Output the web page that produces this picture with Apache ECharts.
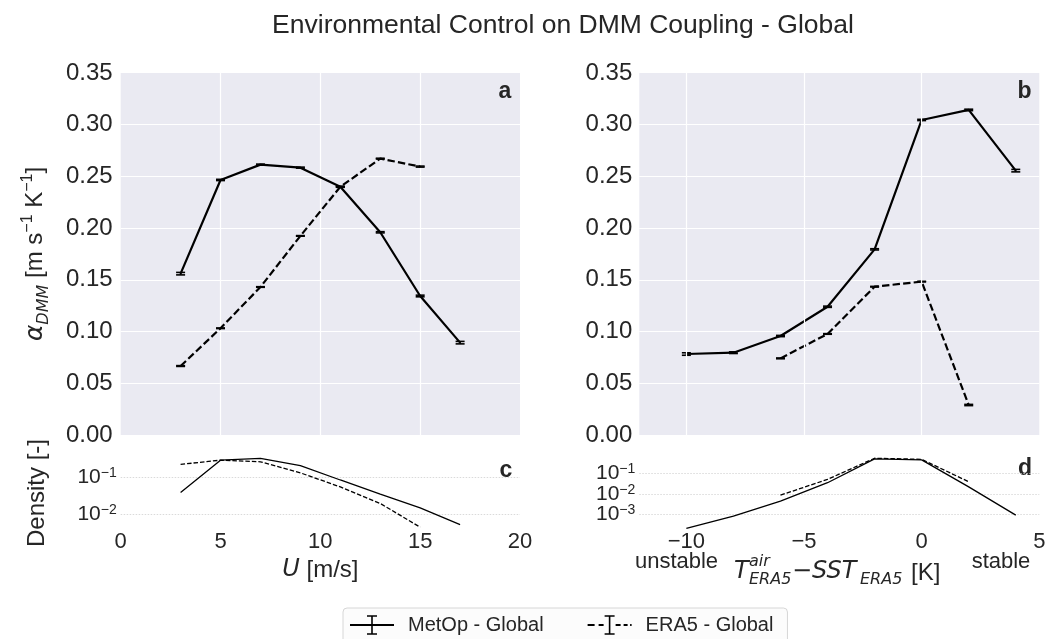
<!DOCTYPE html>
<html><head><meta charset="utf-8">
<script src="https://cdn.jsdelivr.net/npm/echarts@6/dist/echarts.min.js"></script>
<style>html,body{margin:0;padding:0;background:#fff}#c{width:1057px;height:639px}</style>
</head><body><div id="c"></div>
<script>
// ---- data ----
const windSpeed = [3, 5, 7, 9, 11, 13, 15, 17];
const metopWind = [0.156, 0.2466, 0.2614, 0.2585, 0.240, 0.196, 0.1344, 0.0893];
const metopWindErr = [0.0012, 0.0006, 0.0005, 0.0005, 0.0005, 0.0006, 0.0008, 0.0012];
const era5WindSpeed = [3, 5, 7, 9, 11, 13, 15];
const era5Wind = [0.0667, 0.1032, 0.1431, 0.1925, 0.240, 0.2672, 0.2595];
const era5WindErr = [0.0004, 0.0003, 0.0003, 0.0003, 0.0003, 0.0004, 0.0005];

const tempDiff = [-10, -8, -6, -4, -2, 0, 2, 4];
const metopTemp = [0.0783, 0.0796, 0.0957, 0.124, 0.1795, 0.3046, 0.3143, 0.2556];
const metopTempErr = [0.0012, 0.0008, 0.0006, 0.0006, 0.0006, 0.0006, 0.0007, 0.0012];
const era5TempDiff = [-6, -4, -2, 0, 2];
const era5Temp = [0.0741, 0.0977, 0.1434, 0.1483, 0.029];
const era5TempErr = [0.0004, 0.0003, 0.0003, 0.0003, 0.0006];

const metopWindDensity = [0.039, 0.295, 0.33, 0.21, 0.085, 0.035, 0.0148, 0.0052];
const era5WindDensity = [0.226, 0.295, 0.266, 0.133, 0.055, 0.0195, 0.0044];
const metopTempDensity = [0.00021, 0.00083, 0.0045, 0.035, 0.50, 0.45, 0.022, 0.00093];
const era5TempDensity = [0.0087, 0.051, 0.54, 0.48, 0.039];

const tempTicks = [-10, -5, 0, 5];
const tempGridLines = [-10, -5, 0];

// ---- styling ----
const TXT = '#262626';
const FONT = 'Liberation Sans';
const MATH = 'DejaVu Sans';
const BG = '#EAEAF2';

const pairs = (xs, ys) => xs.map((x, i) => [x, ys[i]]);
const errs = (xs, ys, es) => xs.map((x, i) => [x, ys[i] - es[i], ys[i] + es[i]]);

function errRender(params, api) {
  const x = api.value(0);
  const lo = api.coord([x, api.value(1)]);
  const hi = api.coord([x, api.value(2)]);
  const hw = 4.5;
  const st = { stroke: '#000', lineWidth: 1.6 };
  return { type: 'group', children: [
    { type: 'line', shape: { x1: lo[0], y1: lo[1], x2: hi[0], y2: hi[1] }, style: st },
    { type: 'line', shape: { x1: lo[0] - hw, y1: lo[1], x2: lo[0] + hw, y2: lo[1] }, style: st },
    { type: 'line', shape: { x1: hi[0] - hw, y1: hi[1], x2: hi[0] + hw, y2: hi[1] }, style: st }
  ]};
}

const gridA = { left: 120.7, top: 73, width: 399.3, height: 362 };
const gridB = { left: 639.3, top: 73, width: 400, height: 362 };
const gridC = { left: 120.7, top: 455, width: 399.3, height: 76 };
const gridD = { left: 639.3, top: 455, width: 400, height: 76 };

const noLine = { show: false };
const whiteSplit = { show: true, showMinLine: false, showMaxLine: false, lineStyle: { color: '#ffffff', width: 1.2 } };
const dotSplit = { show: true, showMinLine: false, showMaxLine: false, lineStyle: { color: '#d0d0d0', width: 0.8, type: [1.5, 1.5] } };

function logLabel(v) {
  const l = Math.log10(v);
  const e = Math.round(l);
  if (Math.abs(l - e) > 1e-6) return '';
  return '{b|10}{s|' + (e < 0 ? '\u2212' + (-e) : e) + '}';
}
const logRich = {
  b: { fontSize: 21, fontFamily: FONT, color: TXT, lineHeight: 22 },
  s: { fontSize: 14, fontFamily: FONT, color: TXT, lineHeight: 14, verticalAlign: 'top' }
};
const minusFmt = v => (v < 0 ? '\u2212' + (-v) : String(v));

const metopIcon = 'path://M0,10h44v2H0z M21.2,2h1.6v18h-1.6z M17,1.2h10v1.6h-10z M17,19.2h10v1.6h-10z';
const era5Icon = 'path://M0,10h7v2H0z M11,10h5v2h-5z M28,10h5v2h-5z M36,10h4v2h-4z M42.5,10h1.5v2h-1.5z M21.2,2h1.6v18h-1.6z M17,1.2h10v1.6h-10z M17,19.2h10v1.6h-10z';

const option = {
  animation: false,
  backgroundColor: '#ffffff',
  grid: [
    Object.assign({ backgroundColor: BG, show: true, borderWidth: 0 }, gridA),
    Object.assign({ backgroundColor: BG, show: true, borderWidth: 0 }, gridB),
    Object.assign({ show: false }, gridC),
    Object.assign({ show: false }, gridD)
  ],
  xAxis: [
    { gridIndex: 0, type: 'value', min: 0, max: 20, interval: 5, axisLine: noLine, axisTick: noLine, axisLabel: { show: false }, splitLine: whiteSplit },
    { gridIndex: 1, type: 'value', min: -12, max: 5, axisLine: noLine, axisTick: noLine, axisLabel: { show: false }, splitLine: { show: false } },
    { gridIndex: 2, type: 'value', min: 0, max: 20, interval: 5, axisLine: noLine, axisTick: noLine, splitLine: { show: false },
      axisLabel: { fontSize: 22, fontFamily: FONT, color: TXT, margin: 0 },
      name: '{i|U}{n| [m/s]}', nameLocation: 'middle', nameGap: 25,
      nameTextStyle: { rich: {
        i: { fontSize: 24, fontFamily: MATH, fontStyle: 'italic', color: TXT, lineHeight: 28 },
        n: { fontSize: 24, fontFamily: FONT, color: TXT, lineHeight: 28 } } } },
    { gridIndex: 3, type: 'value', min: -12, max: 5, axisLine: noLine, axisTick: { show: false, customValues: tempTicks }, splitLine: { show: false },
      axisLabel: { fontSize: 22, fontFamily: FONT, color: TXT, margin: 0, customValues: tempTicks, formatter: minusFmt } }
  ],
  yAxis: [
    { gridIndex: 0, type: 'value', min: 0, max: 0.35, interval: 0.05, axisLine: noLine, axisTick: noLine, splitLine: whiteSplit,
      axisLabel: { fontSize: 24, fontFamily: FONT, color: TXT, margin: 8, formatter: v => v.toFixed(2) },
      name: '{i|\u03b1}{sub|DMM}{n| [m s}{sup|\u22121}{n| K}{sup|\u22121}{n|]}',
      nameLocation: 'middle', nameRotate: 90, nameGap: 69,
      nameTextStyle: { rich: {
        i: { fontSize: 25, fontFamily: MATH, fontStyle: 'italic', color: TXT, lineHeight: 32 },
        sub: { fontSize: 16, fontFamily: MATH, fontStyle: 'italic', color: TXT, lineHeight: 16, verticalAlign: 'bottom' },
        n: { fontSize: 24, fontFamily: FONT, color: TXT, lineHeight: 32 },
        sup: { fontSize: 16, fontFamily: FONT, color: TXT, lineHeight: 16, verticalAlign: 'top' } } } },
    { gridIndex: 1, type: 'value', min: 0, max: 0.35, interval: 0.05, axisLine: noLine, axisTick: noLine, splitLine: whiteSplit,
      axisLabel: { fontSize: 24, fontFamily: FONT, color: TXT, margin: 7, formatter: v => v.toFixed(2) } },
    { gridIndex: 2, type: 'log', logBase: 10, min: Math.pow(10, -2.46), max: Math.pow(10, -0.39), axisLine: noLine, axisTick: noLine, splitLine: dotSplit,
      axisLabel: { formatter: logLabel, rich: logRich, margin: 4, showMinLabel: false, showMaxLabel: false },
      name: 'Density [-]', nameLocation: 'middle', nameRotate: 90, nameGap: 71,
      nameTextStyle: { fontSize: 24, fontFamily: FONT, color: TXT } },
    { gridIndex: 3, type: 'log', logBase: 10, min: Math.pow(10, -3.8), max: Math.pow(10, -0.11), axisLine: noLine, axisTick: noLine, splitLine: dotSplit,
      axisLabel: { formatter: logLabel, rich: logRich, margin: 4, showMinLabel: false, showMaxLabel: false } }
  ],
  legend: {
    left: 343, top: 608, orient: 'horizontal',
    data: [{ name: 'MetOp - Global', icon: metopIcon }, { name: 'ERA5 - Global', icon: era5Icon }],
    itemWidth: 44, itemHeight: 22, itemGap: 44,
    padding: [7, 14, 10, 7],
    backgroundColor: '#fcfcfc', borderColor: '#d6d6d6', borderWidth: 1, borderRadius: 4,
    textStyle: { fontSize: 20, fontFamily: FONT, color: TXT, padding: [0, 0, 0, 9] },
    itemStyle: { color: '#000', borderWidth: 0 },
    selectedMode: false
  },
  series: [
    { name: 'MetOp - Global', type: 'line', xAxisIndex: 0, yAxisIndex: 0, data: pairs(windSpeed, metopWind), symbol: 'none', lineStyle: { color: '#000', width: 2.2 }, z: 3 },
    { type: 'custom', xAxisIndex: 0, yAxisIndex: 0, data: errs(windSpeed, metopWind, metopWindErr), renderItem: errRender, z: 4 },
    { name: 'ERA5 - Global', type: 'line', xAxisIndex: 0, yAxisIndex: 0, data: pairs(era5WindSpeed, era5Wind), symbol: 'none', lineStyle: { color: '#000', width: 2.2, type: [7.4, 3.2] }, z: 3 },
    { type: 'custom', xAxisIndex: 0, yAxisIndex: 0, data: errs(era5WindSpeed, era5Wind, era5WindErr), renderItem: errRender, z: 4 },

    // vertical white grid lines of panel b
    { type: 'line', xAxisIndex: 1, yAxisIndex: 1, data: [], z: 1, silent: true,
      markLine: { silent: true, symbol: ['none', 'none'], label: { show: false }, animation: false,
        lineStyle: { color: '#ffffff', width: 1.2, type: 'solid' },
        emphasis: { disabled: true },
        data: tempGridLines.map(v => ({ xAxis: v })) } },

    { name: 'MetOp - Global', type: 'line', xAxisIndex: 1, yAxisIndex: 1, data: pairs(tempDiff, metopTemp), symbol: 'none', lineStyle: { color: '#000', width: 2.2 }, z: 3 },
    { type: 'custom', xAxisIndex: 1, yAxisIndex: 1, data: errs(tempDiff, metopTemp, metopTempErr), renderItem: errRender, z: 4 },
    { name: 'ERA5 - Global', type: 'line', xAxisIndex: 1, yAxisIndex: 1, data: pairs(era5TempDiff, era5Temp), symbol: 'none', lineStyle: { color: '#000', width: 2.2, type: [7.4, 3.2] }, z: 3 },
    { type: 'custom', xAxisIndex: 1, yAxisIndex: 1, data: errs(era5TempDiff, era5Temp, era5TempErr), renderItem: errRender, z: 4 },

    { name: 'MetOp - Global', type: 'line', xAxisIndex: 2, yAxisIndex: 2, data: pairs(windSpeed, metopWindDensity), symbol: 'none', lineStyle: { color: '#000', width: 1.3 } },
    { name: 'ERA5 - Global', type: 'line', xAxisIndex: 2, yAxisIndex: 2, data: pairs(era5WindSpeed, era5WindDensity), symbol: 'none', lineStyle: { color: '#000', width: 1.3, type: [4.5, 2] } },
    { name: 'MetOp - Global', type: 'line', xAxisIndex: 3, yAxisIndex: 3, data: pairs(tempDiff, metopTempDensity), symbol: 'none', lineStyle: { color: '#000', width: 1.3 } },
    { name: 'ERA5 - Global', type: 'line', xAxisIndex: 3, yAxisIndex: 3, data: pairs(era5TempDiff, era5TempDensity), symbol: 'none', lineStyle: { color: '#000', width: 1.3, type: [4.5, 2] } }
  ],
  graphic: [
    { type: 'text', x: 563, y: 26, style: { text: 'Environmental Control on DMM Coupling - Global', font: '26.5px "Liberation Sans"', fill: TXT, align: 'center', verticalAlign: 'middle' } },
    { type: 'text', x: 505, y: 92, style: { text: 'a', font: 'bold 23px "Liberation Sans"', fill: TXT, align: 'center', verticalAlign: 'middle' } },
    { type: 'text', x: 1024.5, y: 92, style: { text: 'b', font: 'bold 23px "Liberation Sans"', fill: TXT, align: 'center', verticalAlign: 'middle' } },
    { type: 'text', x: 506, y: 471, style: { text: 'c', font: 'bold 23px "Liberation Sans"', fill: TXT, align: 'center', verticalAlign: 'middle' } },
    { type: 'text', x: 1025, y: 469, style: { text: 'd', font: 'bold 23px "Liberation Sans"', fill: TXT, align: 'center', verticalAlign: 'middle' } },
    { type: 'text', x: 676.5, y: 562, style: { text: 'unstable', font: '22px "Liberation Sans"', fill: TXT, align: 'center', verticalAlign: 'middle' } },
    { type: 'text', x: 1001, y: 562, style: { text: 'stable', font: '22px "Liberation Sans"', fill: TXT, align: 'center', verticalAlign: 'middle' } },
    // x label of panel d: T^air_ERA5 - SST_ERA5 [K]
    { type: 'text', x: 734, y: 572, style: { text: 'T', font: 'italic 24px "DejaVu Sans"', fill: TXT, align: 'left', verticalAlign: 'middle' } },
    { type: 'text', x: 749, y: 562, style: { text: 'air', font: 'italic 16px "DejaVu Sans"', fill: TXT, align: 'left', verticalAlign: 'middle' } },
    { type: 'text', x: 749, y: 580, style: { text: 'ERA5', font: 'italic 16px "DejaVu Sans"', fill: TXT, align: 'left', verticalAlign: 'middle' } },
    { type: 'text', x: 792, y: 572, style: { text: '\u2212SST', font: 'italic 24px "DejaVu Sans"', fill: TXT, align: 'left', verticalAlign: 'middle' } },
    { type: 'text', x: 860, y: 580, style: { text: 'ERA5', font: 'italic 16px "DejaVu Sans"', fill: TXT, align: 'left', verticalAlign: 'middle' } },
    { type: 'text', x: 911, y: 573, style: { text: '[K]', font: '24px "Liberation Sans"', fill: TXT, align: 'left', verticalAlign: 'middle' } }
  ]
};

const chart = echarts.init(document.getElementById('c'), null, { renderer: 'canvas' });
chart.setOption(option);
</script>
</body></html>
